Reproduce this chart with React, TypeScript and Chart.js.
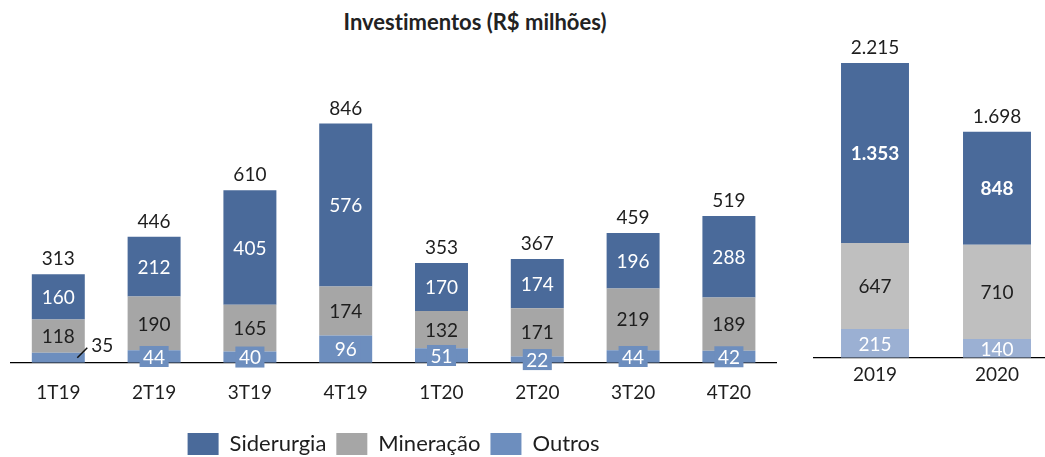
import React, { useEffect, useRef } from "react";
import { Chart, registerables } from "chart.js";

Chart.register(...registerables);

// ---------- data ----------
const quarters = ["1T19", "2T19", "3T19", "4T19", "1T20", "2T20", "3T20", "4T20"];
const qSiderurgia = [160, 212, 405, 576, 170, 174, 196, 288];
const qMineracao = [118, 190, 165, 174, 132, 171, 219, 189];
const qOutros = [35, 44, 40, 96, 51, 22, 44, 42];
const qTotals = [313, 446, 610, 846, 353, 367, 459, 519];

const years = ["2019", "2020"];
const ySiderurgia = [1353, 848];
const yMineracao = [647, 710];
const yOutros = [215, 140];
const yTotals = [2215, 1698];

const seriesNames = ["Siderurgia", "Mineração", "Outros"];
const titleText = "Investimentos (R$ milhões)";
const calloutIndex = 0; // quarter whose "Outros" label sits outside with a leader line

// ---------- style ----------
const FONT = "Lato";
const C_SID = "#4A6A9A";
const C_MIN_L = "#A6A6A6";
const C_OUT_L = "#6D8EBE";
const C_MIN_R = "#BFBFBF";
const C_OUT_R = "#9BB0D3";
const C_TEXT = "#1E1E1E";

const fmt = (n: number) => String(n).replace(/\B(?=(\d{3})+(?!\d))/g, ".");

type SegStyle = { color: string; bold?: boolean; box?: boolean };

function makeLabelPlugin(styles: SegStyle[], totals: number[], callout: number | null) {
  return {
    id: "segLabels",
    afterDatasetsDraw(chart: any) {
      const ctx = chart.ctx as CanvasRenderingContext2D;
      ctx.save();
      ctx.textAlign = "center";
      ctx.textBaseline = "middle";
      chart.data.datasets.forEach((ds: any, di: number) => {
        const meta = chart.getDatasetMeta(di);
        const st = styles[di];
        meta.data.forEach((el: any, j: number) => {
          const v = ds.data[j] as number;
          const { x, y, base } = el.getProps(["x", "y", "base"], true);
          const yc = (y + base) / 2;
          const text = fmt(v);
          ctx.font = `${st.bold ? "bold " : ""}19px ${FONT}`;
          if (st.box && callout === j) {
            ctx.strokeStyle = "#111";
            ctx.lineWidth = 1.5;
            ctx.beginPath();
            ctx.moveTo(x + 19, yc);
            ctx.lineTo(x + 29, yc - 10);
            ctx.stroke();
            ctx.fillStyle = C_TEXT;
            ctx.fillText(text, x + 44, yc - 12);
            return;
          }
          if (st.box) {
            const w = ctx.measureText(text).width + 7;
            ctx.fillStyle = ds.backgroundColor;
            ctx.fillRect(x - w / 2, yc - 10.5, w, 21);
          }
          ctx.fillStyle = st.color;
          ctx.fillText(text, x, yc + 1);
        });
      });
      const topMeta = chart.getDatasetMeta(chart.data.datasets.length - 1);
      ctx.font = `19px ${FONT}`;
      ctx.fillStyle = C_TEXT;
      topMeta.data.forEach((el: any, j: number) => {
        const { x, y } = el.getProps(["x", "y"], true);
        ctx.fillText(fmt(totals[j]), x, y - 15);
      });
      ctx.restore();
    },
  };
}

function baseScales(max: number, tickPad: number) {
  return {
    x: {
      stacked: true,
      grid: { display: false, drawTicks: false },
      border: { display: true, color: "#000", width: 1.3 },
      ticks: { color: C_TEXT, font: { family: FONT, size: 19 }, padding: tickPad },
    },
    y: { stacked: true, display: false, min: 0, max },
  };
}

export default function App() {
  const leftRef = useRef<HTMLCanvasElement>(null);
  const rightRef = useRef<HTMLCanvasElement>(null);

  useEffect(() => {
    let left: Chart | null = null;
    let right: Chart | null = null;
    let cancelled = false;

    const build = () => {
      if (cancelled || !leftRef.current || !rightRef.current) return;
      left = new Chart(leftRef.current, {
        type: "bar",
        data: {
          labels: quarters,
          datasets: [
            { label: seriesNames[2], data: qOutros, backgroundColor: C_OUT_L },
            { label: seriesNames[1], data: qMineracao, backgroundColor: C_MIN_L },
            { label: seriesNames[0], data: qSiderurgia, backgroundColor: C_SID },
          ],
        },
        options: {
          responsive: false,
          animation: false,
          datasets: { bar: { categoryPercentage: 1, barPercentage: 0.553 } },
          layout: { padding: { left: 10.4, right: 13.2, top: 80.1, bottom: 0 } },
          scales: baseScales(1000, 18.75) as any,
          plugins: {
            tooltip: { enabled: false },
            title: { display: false },
            legend: {
              display: true,
              position: "bottom",
              reverse: true,
              labels: {
                boxWidth: 31,
                boxHeight: 22,
                padding: 10,
                color: C_TEXT,
                font: { family: FONT, size: 22 },
              },
            },
          },
        },
        plugins: [
          makeLabelPlugin(
            [
              { color: "#FFFFFF", box: true },
              { color: C_TEXT },
              { color: "#FFFFFF" },
            ],
            qTotals,
            calloutIndex
          ),
        ],
      });

      right = new Chart(rightRef.current, {
        type: "bar",
        data: {
          labels: years,
          datasets: [
            { label: seriesNames[2], data: yOutros, backgroundColor: C_OUT_R },
            { label: seriesNames[1], data: yMineracao, backgroundColor: C_MIN_R },
            { label: seriesNames[0], data: ySiderurgia, backgroundColor: C_SID },
          ],
        },
        options: {
          responsive: false,
          animation: false,
          datasets: { bar: { categoryPercentage: 1, barPercentage: 0.557 } },
          layout: { padding: { left: 14, right: 2, top: 25.2, bottom: 64.5 } },
          scales: baseScales(2500, 6) as any,
          plugins: {
            tooltip: { enabled: false },
            legend: { display: false },
            title: { display: false },
          },
        },
        plugins: [
          makeLabelPlugin(
            [
              { color: "#FFFFFF" },
              { color: C_TEXT },
              { color: "#FFFFFF", bold: true },
            ],
            yTotals,
            null
          ),
        ],
      });
    };

    const fontsApi = (document as any).fonts;
    if (fontsApi && fontsApi.load) {
      Promise.all([
        fontsApi.load(`19px ${FONT}`),
        fontsApi.load(`bold 19px ${FONT}`),
      ])
        .catch(() => null)
        .then(build);
    } else {
      build();
    }

    return () => {
      cancelled = true;
      if (left) left.destroy();
      if (right) right.destroy();
    };
  }, []);

  return (
    <div
      style={{
        position: "fixed",
        left: 0,
        top: 0,
        width: 1045,
        height: 457,
        overflow: "hidden",
        background: "#FFFFFF",
      }}
    >
      <div
        style={{
          position: "absolute",
          left: 0,
          top: 10,
          width: 950,
          textAlign: "center",
          fontFamily: FONT,
          fontWeight: "bold",
          fontSize: 22,
          lineHeight: "24px",
          fontVariantLigatures: "none",
          color: "#222222",
        }}
      >
        {titleText}
      </div>
      <canvas
        ref={leftRef}
        width={790}
        height={465}
        style={{ position: "absolute", left: 0, top: 0, width: 790, height: 465 }}
      />
      <canvas
        ref={rightRef}
        width={260}
        height={457}
        style={{ position: "absolute", left: 800, top: 0, width: 260, height: 457 }}
      />
    </div>
  );
}
